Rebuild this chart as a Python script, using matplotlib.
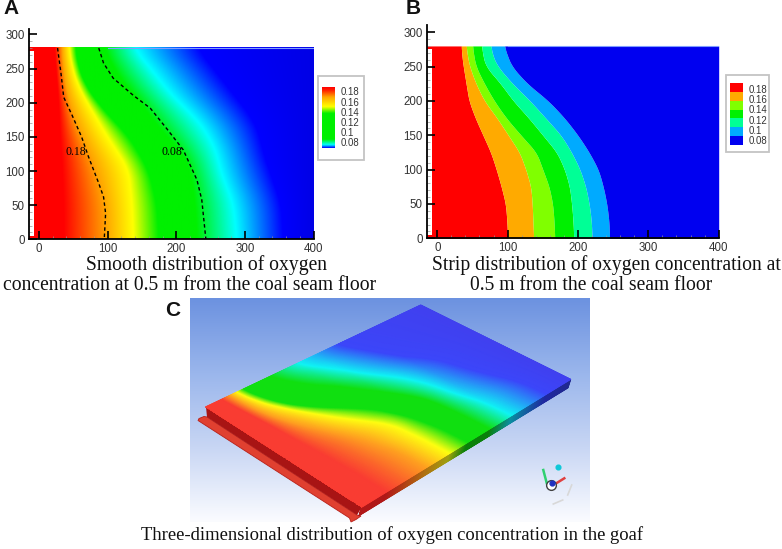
import numpy as np
import matplotlib
matplotlib.use('Agg')
import matplotlib.pyplot as plt
from matplotlib.colors import LinearSegmentedColormap, Normalize
from matplotlib.patches import Polygon, Rectangle

W, H = 782, 549

# ---- panel A: x position of each colour stop, per row
a_rows = [0, 50, 100, 125, 150, 175, 200, 225, 250, 280]
a_red = [35, 35, 33, 32, 30, 29, 28, 26, 24, 22]
a_orange = [98, 96, 84, 74, 62, 52, 44, 38, 35, 33]
a_yellow = [137, 135, 130, 115, 98, 84, 69, 56, 48, 43]
a_green1 = [174, 171, 159, 145, 130, 106, 84, 67, 57, 52]
a_green2 = [230, 227, 220, 208, 186, 164, 147, 125, 108, 94]
a_cyan = [288, 283, 264, 259, 247, 230, 203, 181, 162, 137]
a_blue = [356, 353, 336, 327, 322, 312, 293, 273, 254, 230]
a_levels = [0.20, 0.19, 0.17, 0.15, 0.125, 0.10, 0.085, 0.07, 0.06]
a_colors = ['#ff0000', '#ff0000', '#ffa500', '#ffff00', '#00f000', '#00f000',
            '#00ffff', '#0000ff', '#0000e6']

# dashed contours of panel A
c018_x = [27, 32, 36, 48, 62, 72, 87, 94, 97, 95]
c018_y = [280, 243, 208, 182, 150, 121, 82, 62, 38, 0]
c008_x = [87, 94, 108, 137, 162, 186, 210, 230, 237, 243]
c008_y = [280, 258, 236, 211, 192, 162, 131, 87, 58, 0]

# ---- panel B: band edges, per row
b_rows = [0, 25, 50, 75, 100, 125, 150, 175, 200, 225, 250, 265, 280]
b_edge1 = [100, 99, 97, 91, 84, 76, 65, 54, 45, 41, 37, 35, 34]
b_edge2 = [137, 136, 135, 133, 126, 117, 101, 85, 67, 55, 46, 43, 41]
b_edge3 = [167, 166, 164, 159, 150, 141, 119, 98, 81, 67, 55, 52, 50]
b_edge4 = [194, 193, 191, 188, 181, 170, 150, 130, 108, 90, 69, 65, 63]
b_edge5 = [220, 219, 216, 211, 203, 191, 176, 154, 132, 107, 86, 79, 76]
b_edge6 = [245, 244, 241, 236, 229, 216, 200, 181, 158, 128, 106, 100, 95]
b_colors = ['#ff0000', '#ffaa00', '#80ff00', '#00f000', '#00ff96', '#00aaff', '#0000f0']

legend_labels = ['0.18', '0.16', '0.14', '0.12', '0.1', '0.08']
x_ticks = [0, 100, 200, 300, 400]
y_ticks = [0, 50, 100, 150, 200, 250, 300]

# colour bar of A, fraction from the top
bar_fracs = [0, 0.05, 0.16, 0.32, 0.43, 0.86, 0.95, 1]
bar_colors = ['#ff0000', '#ff2000', '#ffa500', '#ffff00', '#00f000', '#00f000', '#00ffff', '#0000ff']

# ---- panel C: lighter colours of the rendered view
c_colors = ['#fa3c32', '#fa3c32', '#ffa020', '#ffff10', '#10e010', '#10e010',
            '#10f5f5', '#3c46fa', '#4040f0']
c_side_colors = ['#b01818', '#b01818', '#b07010', '#a0a010', '#0a800a', '#0a800a',
                 '#0a90a0', '#2028a0', '#202890']
warp_in = [-15, 0, 60, 140, 175, 290, 400]
warp_out = [-15, 0, 80, 172, 205, 290, 400]

plt.rcParams['font.family'] = ['Liberation Sans', 'DejaVu Sans']


def make_cmap(colors):
    lo, hi = min(a_levels), max(a_levels)
    pairs = sorted(zip([(v - lo) / (hi - lo) for v in a_levels], colors))
    return LinearSegmentedColormap.from_list('stops', pairs, N=1024)


fine_y = np.linspace(0, 280, 141)


def soften(rows, xs, win=9):
    # the read edges are coarse, round off the corners between rows
    v = np.interp(fine_y, rows, xs)
    pad = np.pad(v, win, mode='edge')
    return np.convolve(pad, np.ones(2 * win + 1) / (2 * win + 1), mode='same')[win:-win]


def a_field(xg):
    stops = [np.full(fine_y.size, -15.0)]
    for s in [a_red, a_orange, a_yellow, a_green1, a_green2, a_cyan, a_blue]:
        stops.append(soften(a_rows, s))
    stops.append(np.full(fine_y.size, 400.0))
    stops = np.column_stack(stops)
    return np.array([np.interp(xg, stops[i], a_levels) for i in range(fine_y.size)])


def setup_axes(left, right, y0_px, scale_y, top_px):
    # left/right are pixels of x=-15 and x=400
    ax = fig.add_axes([left / W, 1 - y0_px / H, (right - left) / W, (y0_px - top_px) / H])
    ax.set_xlim(-15, 400)
    ax.set_ylim(0, (y0_px - top_px) / scale_y)
    ax.patch.set_alpha(0)
    for s in ['top', 'right']:
        ax.spines[s].set_visible(False)
    for s in ['left', 'bottom']:
        ax.spines[s].set_linewidth(1.3)
    ax.set_xticks(x_ticks)
    ax.set_yticks(y_ticks)
    ax.set_xticks(np.arange(0, 401, 20), minor=True)
    ax.set_yticks(np.arange(0, 301, 10), minor=True)
    ax.tick_params(which='major', direction='in', length=5.5, width=1.2, labelsize=8.3,
                   labelcolor='#333333', pad=3)
    ax.tick_params(which='minor', direction='in', length=2.5, width=0.5, color='#999999')
    return ax


def left_strip(ax):
    ax.add_patch(Rectangle((-15, 5), 7, 270, facecolor='white', edgecolor='none', zorder=1.5))
    ax.plot([100, 400], [280, 280], color='#7f9cff', lw=0.8, zorder=2)
    ax.plot([400, 400], [0, 280], color='#7f9cff', lw=0.6, zorder=2)


fig = plt.figure(figsize=(W / 100, H / 100), dpi=100)
canvas = fig.add_axes([0, 0, 1, 1])
canvas.set_axis_off()

cmap_a = make_cmap(a_colors)
norm = Normalize(min(a_levels), max(a_levels))
xg = np.linspace(-15, 400, 416)
field = a_field(xg)

# ---- A
ax_a = setup_axes(28.7, 313.7, 239.3, 0.683, 28.5)
ax_a.imshow(field, origin='lower', extent=[-15, 400, 0, 280], aspect='auto', cmap=cmap_a,
            norm=norm, interpolation='bilinear', zorder=1)
ax_a.set_xlim(-15, 400)
ax_a.set_ylim(0, (239.3 - 28.5) / 0.683)
left_strip(ax_a)
ax_a.plot(c018_x, c018_y, color='black', lw=1.0, ls=(0, (2.5, 2)), zorder=3)
ax_a.plot(c008_x, c008_y, color='black', lw=1.0, ls=(0, (2.5, 2)), zorder=3)
ax_a.text(53, 128, '0.18', family='Liberation Serif', fontsize=8.5, ha='center', va='center', zorder=4)
ax_a.text(193, 128, '0.08', family='Liberation Serif', fontsize=8.5, ha='center', va='center', zorder=4)

# ---- B
ax_b = setup_axes(426.7, 718.7, 238.3, 0.687, 25)
edges = [np.full(fine_y.size, -15.0)]
for e in [b_edge1, b_edge2, b_edge3, b_edge4, b_edge5, b_edge6]:
    edges.append(soften(b_rows, e, win=5))
edges.append(np.full(fine_y.size, 400.0))
for i, col in enumerate(b_colors):
    ax_b.fill_betweenx(fine_y, edges[i], edges[i + 1], color=col, lw=0, zorder=1)
left_strip(ax_b)

# ---- legends, in figure pixels
canvas.add_patch(Rectangle((318, 76), 46, 84, facecolor='white', edgecolor='#c4c4c4', lw=1.3, zorder=1))
bar_cmap = LinearSegmentedColormap.from_list('bar', list(zip(bar_fracs, bar_colors)), N=512)
canvas.imshow(np.linspace(0, 1, 128).reshape(-1, 1), extent=[321.7, 334.3, 147.7, 86.7], aspect='auto',
              cmap=bar_cmap, interpolation='bilinear', zorder=2)
for i, lab in enumerate(legend_labels):
    canvas.text(340.5, 92.3 + i * 10.2, lab, fontsize=6.9, color='#333333', va='center', zorder=3)

canvas.add_patch(Rectangle((726, 74.7), 43.3, 77.6, facecolor='white', edgecolor='#c4c4c4', lw=1.3, zorder=1))
for i, col in enumerate(b_colors):
    canvas.add_patch(Rectangle((729.7, 83 + i * 62 / 7), 13, 62 / 7, facecolor=col, edgecolor='none', zorder=2))
for i, lab in enumerate(legend_labels):
    canvas.text(748.5, 90 + i * 10.2, lab, fontsize=6.9, color='#333333', va='center', zorder=3)

# ---- C background
bg_cmap = LinearSegmentedColormap.from_list('bg', ['#6c92e0', '#9ab6ec', '#c8d6f4', '#fbfcff'])
canvas.imshow(np.linspace(0, 1, 256).reshape(-1, 1), extent=[190, 590, 522, 298], aspect='auto',
              cmap=bg_cmap, interpolation='bilinear', zorder=0)

# corners of the plate's top face, px
p_x0y280 = np.array([206.0, 406.7])
p_x400y280 = np.array([420.7, 305.0])
p_x0y0 = np.array([362.0, 507.0])
p_x400y0 = np.array([570.7, 379.3])


def project(x, y):
    u = np.interp(x, warp_in, warp_out)
    u = np.clip(u, 0, 400) / 400.0
    v = y / 280.0
    pts = {}
    for k in (0, 1):
        pts[k] = ((1 - u) * (v * p_x0y280[k] + (1 - v) * p_x0y0[k])
                  + u * (v * p_x400y280[k] + (1 - v) * p_x400y0[k]))
    return pts[0], pts[1]


# flange and front side
canvas.add_patch(Polygon([(198, 420.5), (199, 418.5), (204, 416.5), (207, 417), (357, 515), (361, 516),
                          (356, 519.5), (351, 522), (349.5, 518)],
                         closed=True, facecolor='#e04030', edgecolor='#b82018', lw=0.6, zorder=1))
canvas.add_patch(Polygon([p_x0y280, p_x0y0, (357, 515), (207, 417)], closed=True,
                         facecolor='#a81414', edgecolor='none', zorder=1))

XM, YM = np.meshgrid(xg, fine_y)

# right side, same colours as the y=0 edge, darker
sx, sy = project(XM[0], YM[0])
side_x = np.vstack([sx, sx - 2.7])
side_y = np.vstack([sy, sy + 8.5])
canvas.pcolormesh(side_x, side_y, np.vstack([field[0], field[0]]), shading='gouraud',
                  cmap=make_cmap(c_side_colors), norm=norm, zorder=1)

# top face
px, py = project(XM, YM)
canvas.pcolormesh(px, py, field, shading='gouraud', cmap=make_cmap(c_colors), norm=norm, zorder=2)

# triad in the corner
canvas.plot([546.7, 543.3], [483, 470], color='#30d070', lw=1.8, zorder=3)
canvas.plot([556.7, 564.3], [483, 478.3], color='#e04040', lw=1.8, zorder=3)
canvas.plot([550.5], [485], 'o', mfc='white', mec='#404040', mew=1.0, ms=7, zorder=3)
canvas.plot([552.2], [482.5], 'o', color='#2030c0', ms=3.5, zorder=4)
canvas.plot([557.7], [467.3], 'o', color='#10c8d8', ms=3.4, zorder=3)
canvas.plot([553.3, 562.7], [504, 500], color='#d8d8d8', lw=1.2, zorder=3)
canvas.plot([567.7, 571.7], [495, 485], color='#d8d8d8', lw=1.2, zorder=3)

# ---- letters and captions
for s, x, y in [('A', 3, 9), ('B', 406, 9), ('C', 165, 310)]:
    canvas.text(x, y, s, fontsize=15, fontweight='bold', va='center', ha='left', color='#111111')

serif = dict(family='Liberation Serif', fontsize=14.1, ha='center', va='center', color='#111111')
canvas.text(206, 265, 'Smooth distribution of oxygen', **serif)
canvas.text(190, 286, 'concentration at 0.5 m from the coal seam floor', **serif)
canvas.text(606, 265, 'Strip distribution of oxygen concentration at', **serif)
canvas.text(591, 286, '0.5 m from the coal seam floor', **serif)
serif['fontsize'] = 13.4
canvas.text(392, 535, 'Three-dimensional distribution of oxygen concentration in the goaf', **serif)

canvas.set_xlim(0, W)
canvas.set_ylim(H, 0)

fig.savefig('out.png', dpi=100)
